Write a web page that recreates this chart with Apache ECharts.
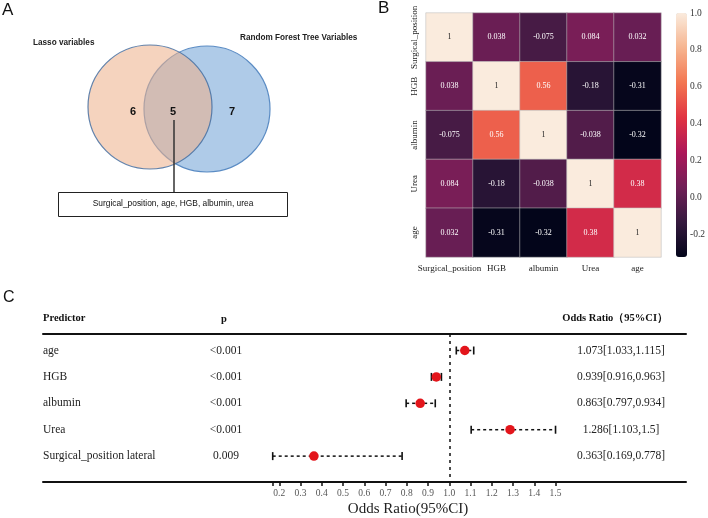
<!DOCTYPE html>
<html>
<head>
<meta charset="utf-8">
<script src="https://cdn.jsdelivr.net/npm/echarts@6/dist/echarts.min.js"></script>
<style>
html,body{margin:0;padding:0;background:#fff;}
#chart{width:708px;height:518px;}
</style>
</head>
<body>
<div id="chart"></div>
<script>
// ---------- Panel A: Venn ----------
const vennSets = ['Lasso variables', 'Random Forest Tree Variables'];
const vennCounts = [6, 5, 7]; // Lasso only, shared, Random Forest only
const vennShared = 'Surgical_position, age, HGB, albumin, urea';

// ---------- Panel B: correlation heatmap ----------
const corrVars = ['Surgical_position', 'HGB', 'albumin', 'Urea', 'age'];
const corrSurgical = [1, 0.038, -0.075, 0.084, 0.032];
const corrHGB = [0.038, 1, 0.56, -0.18, -0.31];
const corrAlbumin = [-0.075, 0.56, 1, -0.038, -0.32];
const corrUrea = [0.084, -0.18, -0.038, 1, 0.38];
const corrAge = [0.032, -0.31, -0.32, 0.38, 1];
const colorbarTicks = [-0.2, 0.0, 0.2, 0.4, 0.6, 0.8, 1.0];

// ---------- Panel C: forest plot ----------
const predictors = ['age', 'HGB', 'albumin', 'Urea', 'Surgical_position lateral'];
const pValues = ['<0.001', '<0.001', '<0.001', '<0.001', '0.009'];
const orValues = [1.073, 0.939, 0.863, 1.286, 0.363];
const ciLower = [1.033, 0.916, 0.797, 1.103, 0.169];
const ciUpper = [1.115, 0.963, 0.934, 1.5, 0.778];
const orTicks = [0.2, 0.3, 0.4, 0.5, 0.6, 0.7, 0.8, 0.9, 1.0, 1.1, 1.2, 1.3, 1.4, 1.5];

const corrMatrix = [corrSurgical, corrHGB, corrAlbumin, corrUrea, corrAge];
const heatData = [];
corrMatrix.forEach((row, i) => row.forEach((v, j) => {
  heatData.push({ value: [j, i, v], label: { color: v > 0.9 ? '#222' : '#fff' } });
}));
const allCorr = [].concat(...corrMatrix);
const cMin = Math.min(...allCorr), cMax = Math.max(...allCorr);

const orLabels = orValues.map((v, i) => `${v}[${ciLower[i]},${ciUpper[i]}]`);
const rowIdx = predictors.map((_, i) => i);

const SERIF = 'Liberation Serif, Times New Roman, serif';
const SANS = 'Liberation Sans, Arial, sans-serif';

// forest axis range (layout)
const fxMin = -0.912, fxMax = 2.114;
const fyMin = -0.625, fyMax = 4.98;

const chart = echarts.init(document.getElementById('chart'), null, { renderer: 'canvas' });

const option = {
  animation: false,
  backgroundColor: '#fff',
  textStyle: { fontFamily: SERIF },
  grid: [
    { left: 426, top: 13, width: 235, height: 244 },
    { left: 676, top: 13, width: 11, height: 244 },
    { left: 43, top: 334, width: 643, height: 148 }
  ],
  xAxis: [
    { type: 'category', gridIndex: 0, data: corrVars,
      axisLine: { show: false }, axisTick: { show: false },
      axisLabel: { interval: 0, fontFamily: SERIF, fontSize: 9, color: '#222', margin: 7 }, splitLine: { show: false } },
    { type: 'value', gridIndex: 1, show: false },
    { type: 'value', gridIndex: 2, position: 'bottom', min: fxMin, max: fxMax,
      axisLine: { show: true, onZero: false, lineStyle: { color: '#111', width: 2 } },
      axisTick: { show: true, customValues: [Math.min(...ciLower)].concat(orTicks), length: 4, lineStyle: { color: '#111', width: 1.5 } },
      axisLabel: { customValues: orTicks, formatter: v => v.toFixed(1), fontFamily: SERIF, fontSize: 9.5, color: '#555', margin: 6 },
      splitLine: { show: false } },
    { type: 'value', gridIndex: 2, position: 'top', min: fxMin, max: fxMax,
      axisLine: { show: true, onZero: false, lineStyle: { color: '#111', width: 2 } },
      axisTick: { show: false }, axisLabel: { show: false }, splitLine: { show: false } }
  ],
  yAxis: [
    { type: 'category', gridIndex: 0, data: corrVars, inverse: true,
      axisLine: { show: false }, axisTick: { show: false },
      axisLabel: { interval: 0, fontFamily: SERIF, fontSize: 9, color: '#222', rotate: 90, margin: 7 }, splitLine: { show: false } },
    { type: 'value', gridIndex: 1, position: 'right', min: cMin, max: cMax,
      axisLine: { show: false }, axisTick: { show: false }, splitLine: { show: false },
      axisLabel: { customValues: colorbarTicks, formatter: v => v.toFixed(1), fontFamily: SERIF, fontSize: 9.5, color: '#333', margin: 6 } },
    { type: 'value', gridIndex: 2, position: 'left', inverse: true, min: fyMin, max: fyMax,
      axisLine: { show: false }, axisTick: { show: false }, splitLine: { show: false },
      axisLabel: { customValues: rowIdx, formatter: v => predictors[v], align: 'left', margin: 0, fontFamily: SERIF, fontSize: 11.5, color: '#222' } },
    { type: 'value', gridIndex: 2, position: 'left', offset: -183, inverse: true, min: fyMin, max: fyMax,
      axisLine: { show: false }, axisTick: { show: false }, splitLine: { show: false },
      axisLabel: { customValues: rowIdx, formatter: v => pValues[v], align: 'center', margin: 0, fontFamily: SERIF, fontSize: 11.5, color: '#222' } },
    { type: 'value', gridIndex: 2, position: 'right', offset: -65, inverse: true, min: fyMin, max: fyMax,
      axisLine: { show: false }, axisTick: { show: false }, splitLine: { show: false },
      axisLabel: { customValues: rowIdx, formatter: v => orLabels[v], align: 'center', margin: 0, fontFamily: SERIF, fontSize: 11.5, color: '#222' } }
  ],
  visualMap: {
    type: 'continuous', seriesIndex: 0, min: cMin, max: cMax,
    left: 676, top: 13, itemWidth: 11, itemHeight: 244, padding: 0,
    calculable: false, showLabel: false, text: null,
    inRange: { color: ['#03051a', '#35193e', '#701f57', '#ad1759', '#e13342', '#f37651', '#f6b48f', '#faebdd'] }
  },
  series: [
    { type: 'heatmap', xAxisIndex: 0, yAxisIndex: 0, data: heatData,
      itemStyle: { borderColor: 'rgba(190,190,190,0.9)', borderWidth: 0.6 },
      label: { show: true, formatter: p => String(p.value[2]), fontFamily: SERIF, fontSize: 8 },
      emphasis: { disabled: true } },
    { type: 'custom', xAxisIndex: 2, yAxisIndex: 2,
      data: rowIdx.map(i => [ciLower[i], ciUpper[i], i]),
      encode: { x: [0, 1], y: 2 },
      renderItem: (params, api) => {
        const y = api.value(2);
        const p1 = api.coord([api.value(0), y]);
        const p2 = api.coord([api.value(1), y]);
        const h = 4;
        return { type: 'group', children: [
          { type: 'line', shape: { x1: p1[0], y1: p1[1], x2: p2[0], y2: p2[1] }, style: { stroke: '#111', lineWidth: 1.5, lineDash: [3, 3] } },
          { type: 'line', shape: { x1: p1[0], y1: p1[1] - h, x2: p1[0], y2: p1[1] + h }, style: { stroke: '#111', lineWidth: 1.6 } },
          { type: 'line', shape: { x1: p2[0], y1: p2[1] - h, x2: p2[0], y2: p2[1] + h }, style: { stroke: '#111', lineWidth: 1.6 } }
        ] };
      }, z: 3 },
    { type: 'scatter', xAxisIndex: 2, yAxisIndex: 2,
      data: orValues.map((v, i) => [v, i]), symbolSize: 9.5,
      itemStyle: { color: '#e3151b', opacity: 1 }, z: 5,
      markLine: { symbol: 'none', silent: true, label: { show: false },
        lineStyle: { type: [3, 4], color: '#111', width: 1.5 }, data: [{ xAxis: 1 }] } }
  ],
  graphic: [
    // panel letters
    { type: 'text', left: 2, top: 2, style: { text: 'A', font: '17px ' + SANS, fill: '#111' } },
    { type: 'text', left: 378, top: 0, style: { text: 'B', font: '17px ' + SANS, fill: '#111' } },
    { type: 'text', left: 3, top: 290, style: { text: 'C', font: '16px ' + SANS, fill: '#111' } },
    // Venn circles
    { type: 'circle', shape: { cx: 207, cy: 109, r: 63 }, style: { fill: '#afcbe8', stroke: '#5b8cc4', lineWidth: 1.2 }, z: 1 },
    { type: 'circle', shape: { cx: 150, cy: 107, r: 62 }, style: { fill: 'rgba(237,177,139,0.56)', stroke: 'rgba(70,110,160,0.85)', lineWidth: 1.2 }, z: 2 },
    { type: 'text', x: 33, y: 43, style: { text: vennSets[0], font: 'bold 8.2px ' + SANS, fill: '#222', verticalAlign: 'middle' }, z: 3 },
    { type: 'text', x: 240, y: 38, style: { text: vennSets[1], font: 'bold 8.2px ' + SANS, fill: '#222', verticalAlign: 'middle' }, z: 3 },
    { type: 'text', x: 133, y: 112, style: { text: String(vennCounts[0]), font: 'bold 11px ' + SANS, fill: '#111', align: 'center', verticalAlign: 'middle' }, z: 3 },
    { type: 'text', x: 173, y: 112, style: { text: String(vennCounts[1]), font: 'bold 11px ' + SANS, fill: '#111', align: 'center', verticalAlign: 'middle' }, z: 3 },
    { type: 'text', x: 232, y: 112, style: { text: String(vennCounts[2]), font: 'bold 11px ' + SANS, fill: '#111', align: 'center', verticalAlign: 'middle' }, z: 3 },
    { type: 'line', shape: { x1: 174, y1: 120, x2: 174, y2: 192 }, style: { stroke: '#333', lineWidth: 1.5 }, z: 3 },
    { type: 'rect', shape: { x: 58.5, y: 192.5, width: 229, height: 24 }, style: { fill: '#fff', stroke: '#222', lineWidth: 1 }, z: 3 },
    { type: 'text', x: 173, y: 204, style: { text: vennShared, font: '8.4px ' + SANS, fill: '#111', align: 'center', verticalAlign: 'middle' }, z: 4 },
    // forest headers
    { type: 'text', x: 43, y: 318, style: { text: 'Predictor', font: 'bold 10.5px ' + SERIF, fill: '#111', verticalAlign: 'middle' } },
    { type: 'text', x: 224, y: 319, style: { text: 'p', font: 'bold 10.5px ' + SERIF, fill: '#111', align: 'center', verticalAlign: 'middle' } },
    { type: 'text', x: 668, y: 318, style: { text: 'Odds Ratio（95%CI）', font: 'bold 10.5px ' + SERIF, fill: '#111', align: 'right', verticalAlign: 'middle' } },
    { type: 'text', x: 408, y: 509, style: { text: 'Odds Ratio(95%CI)', font: '15px ' + SERIF, fill: '#222', align: 'center', verticalAlign: 'middle' } }
  ]
};
chart.setOption(option);
</script>
</body>
</html>
